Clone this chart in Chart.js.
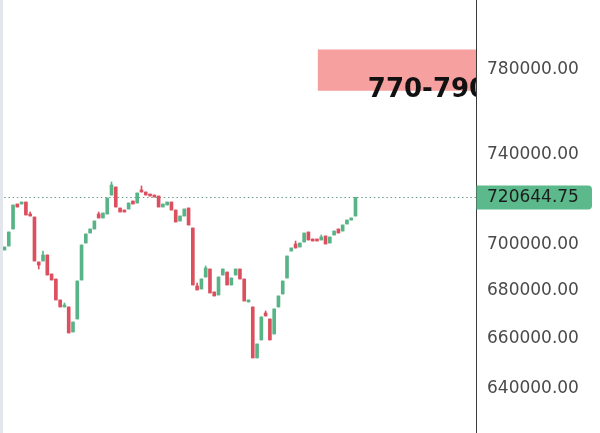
<!DOCTYPE html>
<html><head><meta charset="utf-8">
<script src="https://cdn.jsdelivr.net/npm/chart.js@4"></script>
<style>
html,body{margin:0;padding:0;background:#fff;}
#wrap{position:relative;width:600px;height:433px;overflow:hidden;}
#strip{position:absolute;left:0;top:0;width:3px;height:433px;background:#e4e6ee;}
</style></head><body>
<div id="wrap"><canvas id="c" width="600" height="433"></canvas><div id="strip"></div></div>
<script>
// ---- data ----
const opens = [697498, 699234, 706657, 717710, 717710, 718600, 713266, 711940, 692320, 692751,
  695338, 687178, 685048, 676182, 673250, 673250, 662880, 668248, 684622, 700536,
  704903, 706657, 713266, 711498, 713266, 721730, 725330, 715930, 715040, 715485,
  719050, 718155, 723980, 723078, 722180, 721730, 721280, 716375, 717265, 718600,
  715040, 710172, 712382, 715930, 707096, 682084, 680812, 685900, 689317, 679550,
  678287, 686752, 688030, 682508, 686752, 689317, 685048, 675340, 673250, 652270,
  659600, 670744, 668248, 662060, 673250, 678708, 685474, 697064, 700102, 698800,
  700970, 705340, 702281, 702281, 701844, 703592, 700536, 704029, 706657, 705779,
  708852, 710614, 712382];
const closes = [698800, 705340, 717265, 716375, 718600, 712824, 712382, 692751, 691033, 695338,
  686752, 684622, 676182, 673250, 674086, 662470, 667000, 684196, 699668, 704466,
  706657, 710172, 711498, 713708, 720390, 726227, 716375, 714150, 714150, 718155,
  717710, 722630, 723078, 721730, 721280, 720835, 716375, 717710, 718600, 715040,
  709730, 712382, 715485, 708413, 682508, 680388, 685048, 689746, 679129, 677866,
  685900, 689317, 682508, 685474, 689317, 685048, 675761, 676182, 652270, 657960,
  669080, 669496, 659600, 672414, 677866, 684196, 694907, 698366, 698366, 700536,
  704903, 701844, 701407, 701407, 703155, 700102, 703155, 705779, 704903, 708413,
  710614, 711498, 720644.75];
const highs = [698800, 705340, 717265, 717710, 718600, 718600, 714150, 711940, 692320, 697064,
  695338, 687178, 685048, 676182, 674922, 673250, 667000, 684196, 699668, 704466,
  706657, 710172, 714150, 713708, 720390, 727584, 725330, 715930, 715040, 718155,
  719050, 722630, 725780, 723078, 722180, 721730, 721280, 717710, 718600, 718600,
  715040, 712382, 715485, 715930, 707096, 683356, 685048, 690604, 689317, 679550,
  685900, 689317, 688030, 685474, 689317, 689317, 685048, 676182, 673250, 657960,
  669080, 671578, 668248, 672414, 677866, 684196, 694907, 698366, 701407, 700536,
  704903, 705340, 702281, 702281, 704029, 703592, 703155, 705779, 706657, 708413,
  710614, 711498, 720644.75];
const lows = [697498, 699234, 706657, 716375, 717710, 712824, 712382, 692751, 689317, 692751,
  686752, 684622, 676182, 673250, 673250, 662470, 662880, 668248, 684622, 700536,
  704903, 706657, 711498, 711498, 713266, 721730, 716375, 714150, 714150, 715485,
  717710, 718155, 723078, 721730, 721280, 720835, 716375, 716375, 717265, 715040,
  709730, 710172, 712382, 708413, 682508, 680388, 680812, 685900, 679129, 677866,
  678287, 686752, 682508, 682508, 686752, 685048, 675761, 675340, 652270, 652270,
  659600, 669496, 659600, 662060, 673250, 678708, 685474, 697064, 698366, 698800,
  700970, 701844, 701407, 701407, 701844, 700102, 700536, 704029, 704903, 705779,
  708852, 710614, 712382];
const tickValues = [640000, 660000, 680000, 700000, 740000, 780000];
const lastPrice = 720644.75;
const zoneLow = 770000, zoneHigh = 790000, zoneStartIndex = 73.2;
const zoneLabel = '770-790';

// ---- styling ----
const GREEN = '#58b386', RED = '#dc4f5e';
const colors = opens.map((o, i) => closes[i] >= o ? GREEN : RED);
const bodyData = opens.map((o, i) => ({x: i, y: [o, closes[i]]}));
const wickData = highs.map((h, i) => ({x: i, y: [lows[i], h]}));

function clipArea(ctx, a) {
  ctx.beginPath(); ctx.rect(a.left, a.top, a.right - a.left, a.bottom - a.top); ctx.clip();
}

const overlay = {
  id: 'overlay',
  beforeDatasetsDraw(chart) {
    const {ctx, chartArea, scales: {x, y}} = chart;
    ctx.save();
    clipArea(ctx, chartArea);
    const zx = x.getPixelForValue(zoneStartIndex);
    const zt = y.getPixelForValue(zoneHigh), zb = y.getPixelForValue(zoneLow);
    ctx.fillStyle = '#f7a0a0';
    ctx.fillRect(zx, zt, chartArea.right - zx, zb - zt);
    const py = Math.round(y.getPixelForValue(lastPrice)) + 0.5;
    ctx.strokeStyle = '#6a9e8c'; ctx.lineWidth = 1; ctx.setLineDash([1.5, 2.7]);
    ctx.beginPath(); ctx.moveTo(chartArea.left, py); ctx.lineTo(chartArea.right, py); ctx.stroke();
    ctx.restore();
  },
  afterDatasetsDraw(chart) {
    const {ctx, chartArea, scales: {x, y}} = chart;
    ctx.save();
    clipArea(ctx, chartArea);
    const zx = x.getPixelForValue(zoneStartIndex);
    const zb = y.getPixelForValue(zoneLow);
    ctx.fillStyle = '#111';
    ctx.font = 'bold 26px "DejaVu Sans"';
    ctx.textBaseline = 'alphabetic'; ctx.textAlign = 'left';
    ctx.fillText(zoneLabel, zx + 50, zb + 6);
    ctx.restore();
  },
  afterDraw(chart) {
    const {ctx, chartArea, scales: {y}} = chart;
    const py = y.getPixelForValue(lastPrice);
    const left = chartArea.right + 0.5, right = 592, top = py - 12, bottom = py + 12, r = 4;
    ctx.save();
    ctx.fillStyle = '#5cb98b';
    ctx.beginPath();
    ctx.moveTo(left, top); ctx.lineTo(right - r, top); ctx.quadraticCurveTo(right, top, right, top + r);
    ctx.lineTo(right, bottom - r); ctx.quadraticCurveTo(right, bottom, right - r, bottom);
    ctx.lineTo(left, bottom); ctx.closePath(); ctx.fill();
    ctx.fillStyle = '#1c1c1c'; ctx.font = '17px "DejaVu Sans"';
    ctx.textBaseline = 'middle'; ctx.textAlign = 'left';
    ctx.fillText(lastPrice.toFixed(2), chartArea.right + 11, py);
    ctx.restore();
  }
};

new Chart(document.getElementById('c'), {
  type: 'bar',
  data: {datasets: [
    {data: bodyData, backgroundColor: colors, barThickness: 3, grouped: false, order: 0, borderWidth: 0},
    {data: wickData, backgroundColor: colors, barThickness: 1, grouped: false, order: 1, borderWidth: 0}
  ]},
  options: {
    responsive: false, animation: false, devicePixelRatio: 1,
    layout: {padding: 0},
    plugins: {legend: {display: false}, tooltip: {enabled: false}},
    scales: {
      x: {type: 'linear', display: false, min: -1.051, max: 110.15, offset: false},
      y: {
        type: 'logarithmic', position: 'right', min: 622560, max: 814660, bounds: 'data',
        grid: {display: false, drawTicks: false},
        border: {display: true, color: '#3a3a3a', width: 1},
        afterBuildTicks: s => { s.ticks = tickValues.map(v => ({value: v})); },
        afterFit: s => { s.width = 124; s.paddingTop = 0; s.paddingBottom = 0; },
        ticks: {padding: 11, autoSkip: false, maxRotation: 0, color: '#4a4a4a',
          font: {family: 'DejaVu Sans', size: 17},
          callback: v => Number(v).toFixed(2)}
      }
    }
  },
  plugins: [overlay]
});
</script>
</body></html>
